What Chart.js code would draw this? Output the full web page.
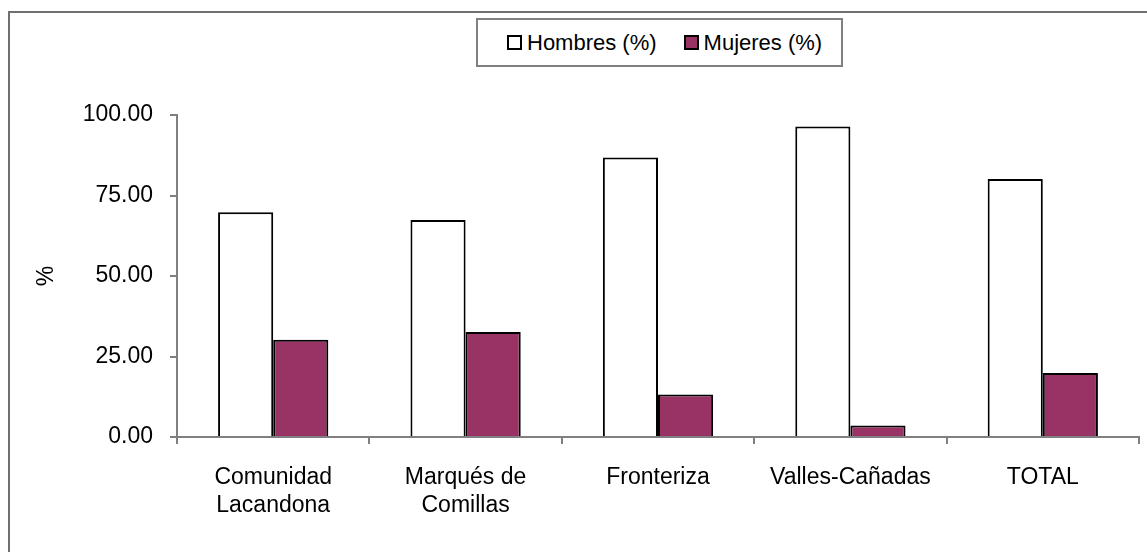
<!DOCTYPE html>
<html>
<head>
<meta charset="utf-8">
<script src="https://cdn.jsdelivr.net/npm/chart.js@4"></script>
<style>
  body { margin: 0; background: #fff; font-family: "Liberation Sans", Arial, sans-serif; }
  #wrap { position: relative; width: 1147px; height: 552px; overflow: hidden; }
  #frame { position: absolute; left: 8px; top: 11px; width: 3000px; height: 3000px;
           border-left: 2px solid #707070; border-top: 2px solid #707070; }
  #chart { position: absolute; left: 0; top: 0; }
  #legend { position: absolute; left: 476px; top: 18px; width: 363px; height: 45px;
            border: 2px solid #808080; background: #fff; font-size: 22px; color: #000;
            display: flex; align-items: center; }
  .item { display: flex; align-items: center; }
  .box { width: 11px; height: 11px; border: 2px solid #000; margin-right: 5px; }
</style>
</head>
<body>
<div id="wrap">
  <div id="frame"></div>
  <canvas id="chart" width="1147" height="552"></canvas>
  <div id="legend"></div>
</div>
<script>
// ===============================
// DATOS
// ===============================
const categorias = [
  ["Comunidad", "Lacandona"],
  ["Marqués de", "Comillas"],
  "Fronteriza",
  "Valles-Cañadas",
  "TOTAL"
];
const hombres = [69.8, 67.4, 86.8, 96.4, 80.1];
const mujeres = [30.2, 32.6, 13.2, 3.6, 19.9];
const yTicks = [0, 25, 50, 75, 100];

const series = [
  { label: "Hombres (%)", data: hombres, color: "#ffffff" },
  { label: "Mujeres (%)", data: mujeres, color: "#993366" }
];

// ===============================
// LEYENDA
// ===============================
const legend = document.getElementById("legend");
series.forEach((s, i) => {
  const item = document.createElement("div");
  item.className = "item";
  item.style.marginLeft = i === 0 ? "29px" : "27px";
  const box = document.createElement("span");
  box.className = "box";
  box.style.background = s.color;
  const txt = document.createElement("span");
  txt.textContent = s.label;
  item.appendChild(box);
  item.appendChild(txt);
  legend.appendChild(item);
});

// ===============================
// GRÁFICO
// ===============================
const font = { family: "'Liberation Sans', Arial, sans-serif", size: 23 };

new Chart(document.getElementById("chart"), {
  type: "bar",
  data: {
    labels: categorias,
    datasets: series.map(s => ({
      label: s.label,
      data: s.data,
      backgroundColor: s.color,
      borderColor: "#000",
      borderWidth: 2,
      categoryPercentage: 0.573,
      barPercentage: 1
    }))
  },
  options: {
    responsive: false,
    animation: false,
    layout: { padding: { left: 0, top: 115, right: 8, bottom: 0 } },
    plugins: { legend: { display: false }, tooltip: { enabled: false } },
    scales: {
      x: {
        afterFit: s => { s.height = 115; },
        grid: { drawOnChartArea: false, tickLength: 7, color: "#808080", lineWidth: 2 },
        border: { color: "#808080", width: 2 },
        ticks: { color: "#000", font: { ...font, lineHeight: 1.25 }, padding: 19, maxRotation: 0 }
      },
      y: {
        min: 0,
        max: 100,
        afterFit: s => { s.width = 177; },
        afterBuildTicks: s => { s.ticks = yTicks.map(v => ({ value: v })); },
        grid: { drawOnChartArea: false, tickLength: 7, color: "#808080", lineWidth: 2 },
        border: { color: "#808080", width: 2 },
        ticks: { color: "#000", font, padding: 17, callback: v => v.toFixed(2) },
        title: { display: true, text: "%", color: "#000", font: { ...font, size: 23 }, padding: { top: 33 } }
      }
    }
  }
});
</script>
</body>
</html>
